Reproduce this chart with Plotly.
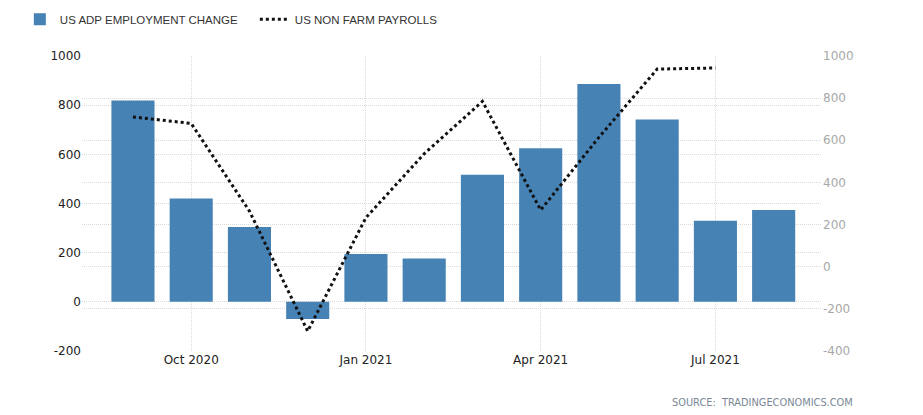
import plotly.graph_objects as go

months = ["Sep 2020", "Oct 2020", "Nov 2020", "Dec 2020", "Jan 2021", "Feb 2021",
          "Mar 2021", "Apr 2021", "May 2021", "Jun 2021", "Jul 2021", "Aug 2021"]
adp = [819, 420, 304, -70, 195, 176, 517, 625, 886, 742, 330, 374]
nfp_months = months[:11]
nfp = [711, 680, 264, -306, 233, 536, 785, 269, 614, 938, 943]
tick_vals = ["Oct 2020", "Jan 2021", "Apr 2021", "Jul 2021"]
tick_text = ["Oct 2020", "Jan 2021", "Apr 2021", "Jul 2021"]
y1_ticks = [-200, 0, 200, 400, 600, 800, 1000]
y2_ticks = [-400, -200, 0, 200, 400, 600, 800, 1000]

fig = go.Figure()
fig.add_trace(go.Bar(x=months, y=adp, name="US ADP EMPLOYMENT CHANGE",
                     marker=dict(color="#4682B4", line=dict(width=0)),
                     width=0.74, yaxis="y"))
fig.add_trace(go.Scatter(x=nfp_months, y=nfp, name="US NON FARM PAYROLLS",
                         mode="lines", line=dict(color="#111111", width=3, dash="dot"),
                         yaxis="y2"))

grid = "#d9d9d9"
fig.update_layout(
    width=923, height=415,
    margin=dict(l=74, r=109, t=48, b=72, autoexpand=False),
    plot_bgcolor="white", paper_bgcolor="white",
    font=dict(family="DejaVu Sans", size=12, color="#333333"),
    showlegend=True,
    legend=dict(orientation="h", x=-0.084, xanchor="left",
                y=1.125, yanchor="middle", entrywidth=190,
                font=dict(family="Liberation Sans", size=11.5, color="#333333"),
                traceorder="normal", bgcolor="rgba(0,0,0,0)"),
    xaxis=dict(type="category", categoryorder="array", categoryarray=months,
               range=[-0.875, 11.83], tickvals=tick_vals, ticktext=tick_text,
               showgrid=True, gridcolor=grid, griddash="1px,1px", gridwidth=1,
               ticks="", showline=False, zeroline=False,
               tickfont=dict(family="DejaVu Sans", size=12, color="#222222")),
    yaxis=dict(range=[-200, 1000], tickvals=y1_ticks, ticktext=[str(v) for v in y1_ticks],
               showgrid=True, gridcolor=grid, griddash="1px,1px", gridwidth=1,
               zeroline=False, showline=False, ticks="",
               tickfont=dict(family="DejaVu Sans", size=12, color="#222222")),
    yaxis2=dict(range=[-400, 1000], tickvals=y2_ticks, ticktext=[str(v) for v in y2_ticks],
                overlaying="y", side="right",
                showgrid=True, gridcolor=grid, griddash="1px,1px", gridwidth=1,
                zeroline=False, showline=False, ticks="",
                tickfont=dict(family="DejaVu Sans", size=12, color="#a8a8a8")),
    bargap=0.26,
)

fig.add_annotation(text="SOURCE:  TRADINGECONOMICS.COM", xref="paper", yref="paper",
                   x=1.045, y=-0.173, xanchor="right", yanchor="middle", showarrow=False,
                   font=dict(family="DejaVu Sans", size=9.8, color="#7a8796"))

fig.write_html("out.html")
